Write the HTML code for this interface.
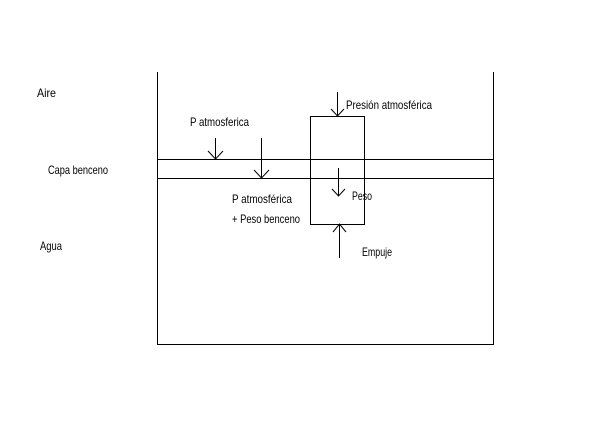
<!DOCTYPE html>
<html><head><style>body{margin:0;background:#fff}svg{display:block}text{font-family:"Liberation Sans",sans-serif;font-size:12px;fill:#000}</style></head><body>
<svg width="616" height="424" viewBox="0 0 616 424" xmlns="http://www.w3.org/2000/svg">
<rect width="616" height="424" fill="#fff"/>
<g stroke="#000" stroke-width="1" fill="none" shape-rendering="crispEdges">
<path d="M157.5 72V344.5H493.5V72"/>
<path d="M157 159.5H493M157 178.5H493"/>
<rect x="310.5" y="116.5" width="54" height="108"/>
</g>
<g stroke="#000" stroke-width="1" fill="none">
<path d="M215.5 138V159M208 151L215.5 159L223 151"/>
<path d="M261.5 138V178M254 170L261.5 178L269 170"/>
<path d="M337.5 92V116M331 109L337.5 116L344 109"/>
<path d="M338.5 168V196M332 189L338.5 196L345 189"/>
<path d="M339.5 224V258M333 232L339.5 224L346 232"/>
</g>
<text x="37" y="97" textLength="19" lengthAdjust="spacingAndGlyphs">Aire</text>
<text x="48" y="174" textLength="60" lengthAdjust="spacingAndGlyphs">Capa benceno</text>
<text x="40" y="250" textLength="22" lengthAdjust="spacingAndGlyphs">Agua</text>
<text x="190" y="126" textLength="59" lengthAdjust="spacingAndGlyphs">P atmosferica</text>
<text x="346" y="109" textLength="86" lengthAdjust="spacingAndGlyphs">Presión atmosférica</text>
<text x="232" y="203" textLength="60" lengthAdjust="spacingAndGlyphs">P atmosférica</text>
<text x="232" y="223" textLength="68" lengthAdjust="spacingAndGlyphs">+ Peso benceno</text>
<text x="352" y="200" textLength="20" lengthAdjust="spacingAndGlyphs">Peso</text>
<text x="362" y="256" textLength="30" lengthAdjust="spacingAndGlyphs">Empuje</text>
</svg>
</body></html>
